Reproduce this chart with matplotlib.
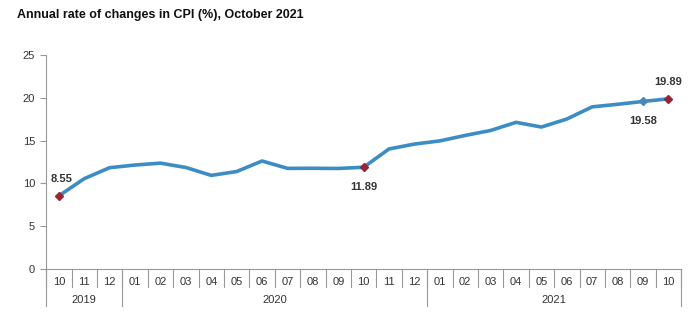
import matplotlib
matplotlib.use("Agg")
import matplotlib.pyplot as plt
from matplotlib.transforms import blended_transform_factory

plt.rcParams['font.family'] = ['Liberation Sans', 'DejaVu Sans']

months = ["10", "11", "12", "01", "02", "03", "04", "05", "06", "07", "08", "09",
          "10", "11", "12", "01", "02", "03", "04", "05", "06", "07", "08", "09", "10"]
years = ["2019", "2020", "2021"]
year_counts = [3, 12, 10]
cpi = [8.55, 10.56, 11.84, 12.15, 12.37, 11.86, 10.94, 11.39, 12.62, 11.76, 11.77, 11.75,
       11.89, 14.03, 14.60, 14.97, 15.61, 16.19, 17.14, 16.59, 17.53, 18.95, 19.25, 19.58, 19.89]
highlight_idx = [0, 12, 23, 24]
highlight_pos = ["above", "below", "below", "above"]
highlight_col = ["#9b2335", "#9b2335", "#4a86b8", "#9b2335"]

fig = plt.figure(figsize=(7.0, 3.28), dpi=100)
ax = fig.add_axes([0.066, 0.18, 0.907, 0.652])

x = list(range(len(cpi)))
ax.plot(x, cpi, color="#3b8dc4", lw=2.6, solid_joinstyle="round", zorder=2)

for i, pos, c in zip(highlight_idx, highlight_pos, highlight_col):
    ax.plot(x[i], cpi[i], marker="D", ms=4.5, color=c, zorder=3)
    dy = 12 if pos == "above" else -14
    ax.annotate(f"{cpi[i]:.2f}", (x[i], cpi[i]), xytext=(2 if i == 0 else 0, dy),
                textcoords="offset points", ha="center", va="center",
                fontsize=8, fontweight="bold", color="#333333")

ax.set_xlim(-0.5, len(cpi) - 0.5)
ax.set_ylim(0, 25)
ax.set_yticks([0, 5, 10, 15, 20, 25])
ax.tick_params(axis="y", labelsize=8, colors="#333333", length=4, width=0.8, color="#999999", pad=4)
ax.set_xticks([])
for s in ["top", "right"]:
    ax.spines[s].set_visible(False)
for s in ["left", "bottom"]:
    ax.spines[s].set_color("#999999")
    ax.spines[s].set_linewidth(0.8)

trans = blended_transform_factory(ax.transData, ax.transAxes)
month_depth = -0.084
year_depth = -0.173

for k in range(len(months) + 1):
    ax.plot([k - 0.5, k - 0.5], [0, month_depth], transform=trans, color="#999999",
            lw=0.8, clip_on=False)
for k, m in enumerate(months):
    ax.text(k, -0.06, m, transform=trans, ha="center", va="center", fontsize=8, color="#333333")

bounds = [0]
for cnt in year_counts:
    bounds.append(bounds[-1] + cnt)
for b in bounds:
    ax.plot([b - 0.5, b - 0.5], [0, year_depth], transform=trans, color="#999999",
            lw=0.8, clip_on=False)
for yname, a, b in zip(years, bounds[:-1], bounds[1:]):
    ax.text((a + b - 1) / 2, -0.143, yname, transform=trans, ha="center", va="center",
            fontsize=8, color="#333333")

fig.text(0.024, 0.955, "Annual rate of changes in CPI (%), October 2021", fontsize=9,
         fontweight="bold", color="#111111", ha="left", va="center")

fig.savefig("out.png", dpi=100)
